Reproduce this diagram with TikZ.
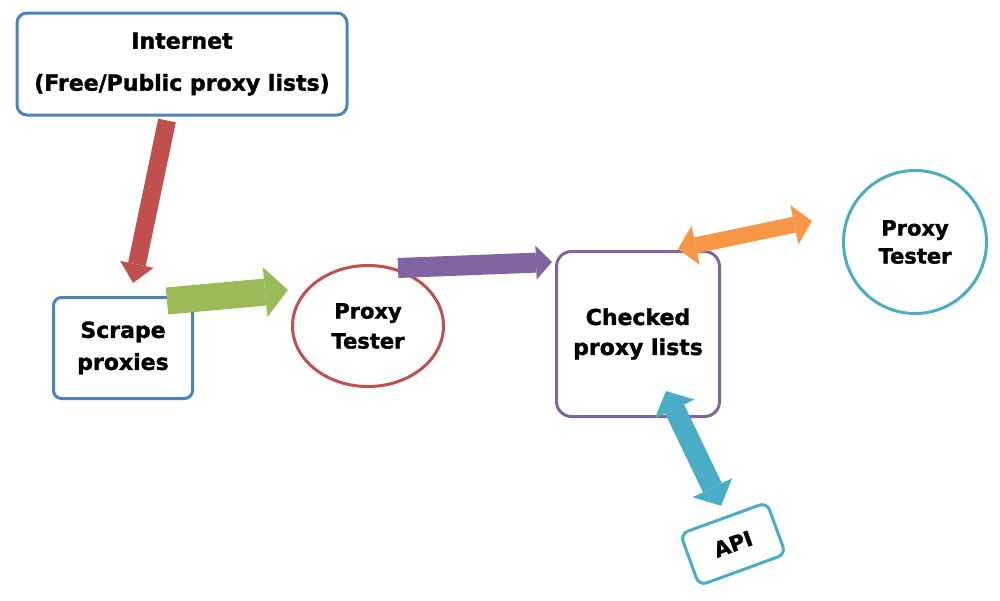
\documentclass[tikz,border=0pt]{standalone}
\usepackage{fontspec}
\setmainfont{DejaVu Sans}[BoldFeatures={FakeBold=1.5}]
\usetikzlibrary{arrows.meta,shapes.geometric}
\definecolor{boxblue}{HTML}{4F81BD}
\definecolor{testred}{HTML}{C0504D}
\definecolor{feedgreen}{HTML}{9BBB59}
\definecolor{listpurple}{HTML}{8064A2}
\definecolor{apiteal}{HTML}{4BACC6}
\definecolor{swaporange}{HTML}{F79646}
\tikzset{
  every node/.style={align=center,line width=3pt,font=\bfseries\fontsize{22}{30}\selectfont},
  card/.style={draw=#1,rectangle,rounded corners=10pt},
  bubble/.style={draw=#1,ellipse},
  flow/.style n args={4}{draw=#1,line width=#2,-{Triangle[width=#3,length=#4,line width=0pt]}},
  swap/.style n args={4}{draw=#1,line width=#2,{Triangle[width=#3,length=#4,line width=0pt]}-{Triangle[width=#3,length=#4,line width=0pt]}}
}

\begin{document}
\begin{tikzpicture}[x=1pt,y=-1pt]
\useasboundingbox (0,0) rectangle (1000,600);
\node[card=boxblue,minimum width=330pt,minimum height=102pt] (internet) at (182,64) {Internet\\[12pt](Free/Public proxy lists)};
\node[card=boxblue,rounded corners=8pt,minimum width=139pt,minimum height=101pt] (scrape) at (123,348) {Scrape\\[2pt]proxies};
\node[bubble=testred,minimum width=151pt,minimum height=121pt,font=\bfseries\fontsize{21}{30}\selectfont] (tester) at (368,326) {Proxy\\Tester};
\node[card=listpurple,rounded corners=15pt,minimum width=163pt,minimum height=165pt] (checked) at (638,334) {Checked\\proxy lists};
\node[circle,draw=apiteal,minimum size=143pt,font=\bfseries\fontsize{21}{28}\selectfont] (remote) at (915,242) {Proxy\\Tester};
\node[card=apiteal,rounded corners=8pt,rotate=20,minimum width=92pt,minimum height=55pt,font=\bfseries\fontsize{21}{25}\selectfont] (api) at (733,544) {API};
\draw[flow={testred}{18pt}{34pt}{19pt}] ([shift={(-15,4)}]internet.south) -- ([shift={(10,-13)}]scrape.north);
\draw[flow={feedgreen}{27pt}{50pt}{23pt}] ([shift={(-27,5)}]scrape.north east) -- ([shift={(-3,-36)}]tester.west);
\draw[flow={listpurple}{20pt}{34pt}{16pt}] ([shift={(30,4)}]tester.north) -- ([shift={(-3,12)}]checked.north west);
\draw[swap={swaporange}{16pt}{40pt}{18pt}] ([shift={(-43,-1)}]checked.north east) -- ([shift={(-30,-21)}]remote.west);
\draw[swap={apiteal}{21pt}{44pt}{20pt}] ([shift={(28,-27)}]checked.south) -- ([shift={(-2,-11)}]api.north);
\end{tikzpicture}
\end{document}
